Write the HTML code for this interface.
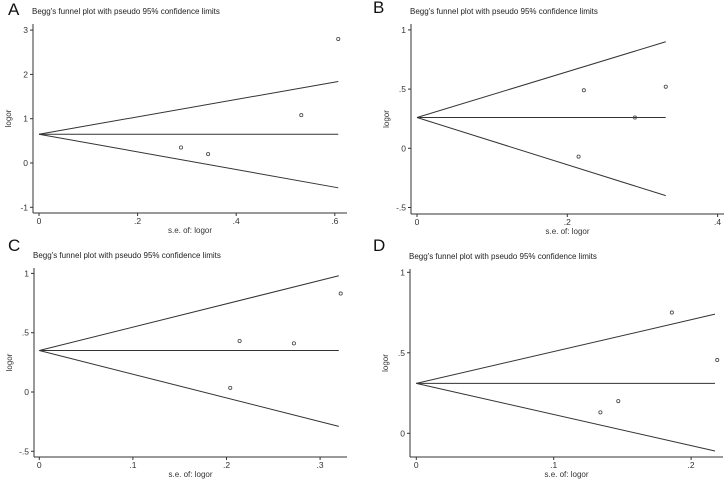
<!DOCTYPE html>
<html><head><meta charset="utf-8"><style>
html,body{margin:0;padding:0;background:#fff}
svg{display:block;font-family:"Liberation Sans",sans-serif}
</style></head><body>
<svg id="chart" width="725" height="479" viewBox="0 0 725 479"></svg>
<script>
// Panel A data
const seA = [0.288, 0.343, 0.532, 0.607];
const logorA = [0.35, 0.2, 1.08, 2.8];
const pooledA = 0.65, upperA = 1.84, lowerA = -0.56, maxSeA = 0.607;
const xTicksA = [0, 0.2, 0.4, 0.6], xLabA = ["0", ".2", ".4", ".6"];
const yTicksA = [-1, 0, 1, 2, 3], yLabA = ["-1", "0", "1", "2", "3"];
// Panel B data
const seB = [0.215, 0.222, 0.29, 0.331];
const logorB = [-0.07, 0.49, 0.26, 0.52];
const pooledB = 0.26, upperB = 0.9, lowerB = -0.4, maxSeB = 0.331;
const xTicksB = [0, 0.2, 0.4], xLabB = ["0", ".2", ".4"];
const yTicksB = [-0.5, 0, 0.5, 1], yLabB = ["-.5", "0", ".5", "1"];
// Panel C data
const seC = [0.204, 0.214, 0.272, 0.322];
const logorC = [0.035, 0.43, 0.41, 0.83];
const pooledC = 0.35, upperC = 0.98, lowerC = -0.29, maxSeC = 0.32;
const xTicksC = [0, 0.1, 0.2, 0.3], xLabC = ["0", ".1", ".2", ".3"];
const yTicksC = [-0.5, 0, 0.5, 1], yLabC = ["-.5", "0", ".5", "1"];
// Panel D data
const seD = [0.134, 0.147, 0.186, 0.219];
const logorD = [0.13, 0.2, 0.75, 0.455];
const pooledD = 0.31, upperD = 0.74, lowerD = -0.11, maxSeD = 0.2174;
const xTicksD = [0, 0.1, 0.2], xLabD = ["0", ".1", ".2"];
const yTicksD = [0, 0.5, 1], yLabD = ["0", ".5", "1"];

const NS = "http://www.w3.org/2000/svg";
const svg = document.getElementById("chart");
function mk(tag, attrs, parent, text) {
  const e = document.createElementNS(NS, tag);
  for (const k in attrs) e.setAttribute(k, attrs[k]);
  if (text !== undefined) e.textContent = text;
  (parent || svg).appendChild(e);
  return e;
}

function panel(letter, L, lx, ly, ax, ay, axRight, axTop, axBottom, x0px, xUnitPx, xUnit, yRef, yRefPx, yUnitPx, yUnit,
               se, lo, pooled, upper, lower, maxSe, xt, xl, yt, yl) {
  const g = mk("g", {});
  
  
  const X = v => x0px + v / xUnit * xUnitPx;
  const Y = v => yRefPx - (v - yRef) / yUnit * yUnitPx;
  const lab = mk("text", {x: lx, y: ly, "font-size": 17, fill: "#111"}, g, letter);
  
  
  const t = mk("text", {x: ax - 1, y: axTop - 10, "font-size": 8, fill: "#222"}, g, "Begg's funnel plot with pseudo 95% confidence limits");
  
  
  const yA = mk("line", {x1: ax, y1: axTop, x2: ax, y2: axBottom, stroke: "#333", "stroke-width": 1}, g);
  
  
  const xA = mk("line", {x1: ax, y1: axBottom, x2: axRight, y2: axBottom, stroke: "#333", "stroke-width": 1}, g);
  
  
  xt.forEach((v, i) => {
    const tk = mk("line", {x1: X(v), y1: axBottom, x2: X(v), y2: axBottom + 3, stroke: "#333"}, g);
    
    
    const tl = mk("text", {x: X(v), y: axBottom + 11, "font-size": 8.5, fill: "#333", "text-anchor": "middle"}, g, xl[i]);
    
    
  });
  yt.forEach((v, i) => {
    const tk = mk("line", {x1: ax - 3, y1: Y(v), x2: ax, y2: Y(v), stroke: "#333"}, g);
    
    
    const tl = mk("text", {x: ax - 5, y: Y(v) + 3, "font-size": 8.5, fill: "#333", "text-anchor": "end"}, g, yl[i]);
    
    
  });
  const xt2 = mk("text", {x: (ax + axRight) / 2, y: axBottom + 20, "font-size": 8, fill: "#333", "text-anchor": "middle"}, g, "s.e. of: logor");
  
  
  const cy = (axTop + axBottom) / 2;
  const yt2 = mk("text", {x: ax - 22, y: cy, "font-size": 8, fill: "#333", "text-anchor": "middle", transform: `rotate(-90 ${ax - 22} ${cy})`}, g, "logor");
  
  
  const lines = [["pooled-estimate-line", pooled], ["upper-confidence-limit", upper], ["lower-confidence-limit", lower]];
  lines.forEach(([n, end]) => {
    const ln = mk("line", {x1: X(0), y1: Y(pooled), x2: X(maxSe), y2: Y(end), stroke: "#333", "stroke-width": 1}, g);
    
    
  });
  se.forEach((s, i) => {
    const c = mk("circle", {cx: X(s), cy: Y(lo[i]), r: 1.6, fill: "none", stroke: "#444", "stroke-width": 0.8}, g);
    
    
  });
}

panel("A", 0, 8, 15, 33, 0, 347, 24, 213, 39, 98.6, 0.2, 0, 163, 44.3, 1,
  seA, logorA, pooledA, upperA, lowerA, maxSeA, xTicksA, xLabA, yTicksA, yLabA);
panel("B", 0, 373, 13, 411, 0, 724, 24, 214, 417, 150.3, 0.2, 0, 148.3, 59.2, 0.5,
  seB, logorB, pooledB, upperB, lowerB, maxSeB, xTicksB, xLabB, yTicksB, yLabB);
panel("C", 0, 8, 251, 34, 0, 347, 268, 457, 39.3, 93.6, 0.1, 0, 392, 59.3, 0.5,
  seC, logorC, pooledC, upperC, lowerC, maxSeC, xTicksC, xLabC, yTicksC, yLabC);
panel("D", 0, 373, 251, 410, 0, 723, 269, 457, 416.3, 137.4, 0.1, 0, 433.3, 80.5, 0.5,
  seD, logorD, pooledD, upperD, lowerD, maxSeD, xTicksD, xLabD, yTicksD, yLabD);
</script>
</body></html>
